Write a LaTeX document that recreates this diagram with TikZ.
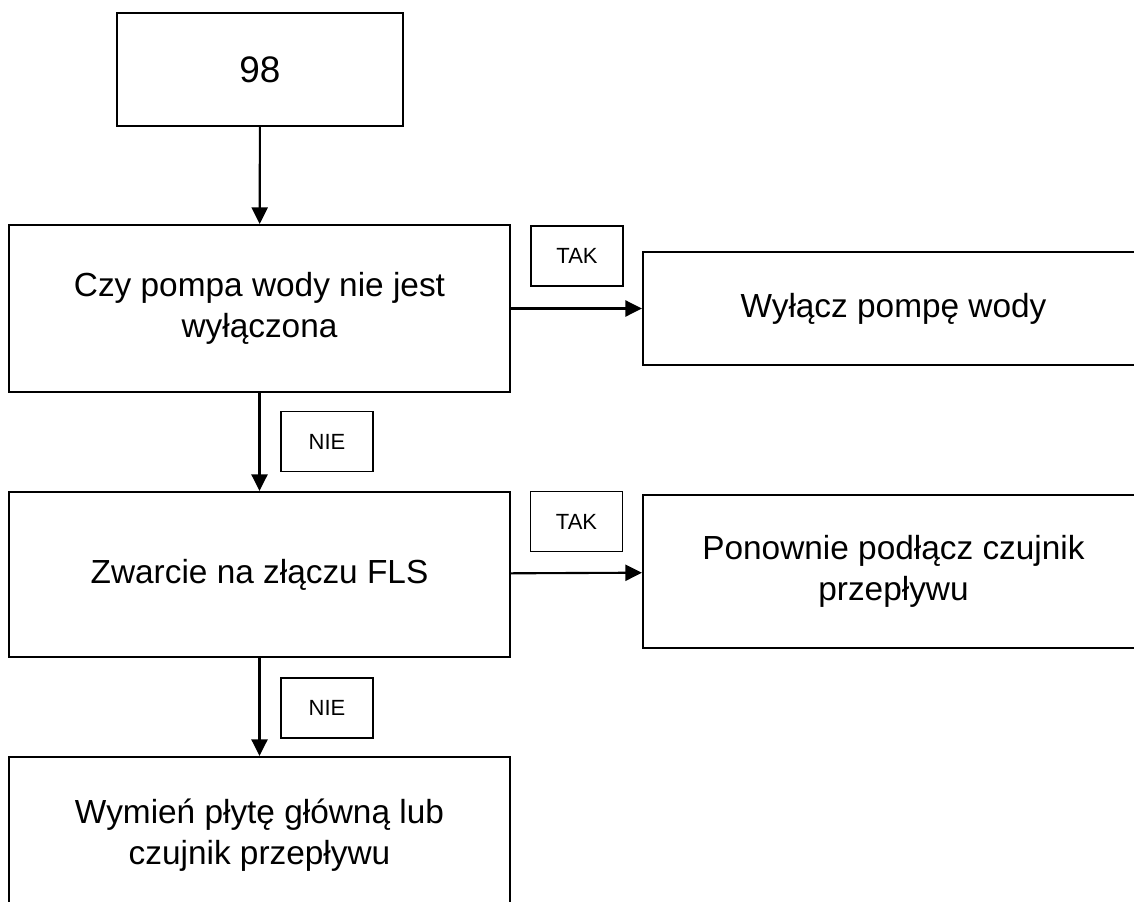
\documentclass[tikz,border=0pt]{standalone}
\usepackage{fontspec}
\setmainfont{Liberation Sans}
\usetikzlibrary{arrows.meta, positioning}

\begin{document}
\begin{tikzpicture}[
            box/.style={draw=black, line width=1.2pt, minimum width=10.02cm, inner sep=0pt, align=center, font=\fontsize{19}{23}\selectfont},
            lbl/.style={draw=black, line width=1pt, minimum width=1.84cm, minimum height=1.2cm, inner sep=0pt, font=\fontsize{12.5}{15}\selectfont},
            arr/.style={-{Triangle[length=0.33cm, width=0.32cm]}, line width=1.2pt}
        ]
            \clip (0,0) rectangle (22.68,-18.04);
            \node[box, minimum width=5.72cm, minimum height=2.26cm, font=\fontsize{21}{25}\selectfont] (n98) at (5.2,-1.39) {98};
            \node[box, minimum height=3.34cm] (q1) at (5.19,-6.17) {Czy pompa wody nie jest\\wyłączona};
            \node[box, minimum height=2.26cm] (a1) at (17.87,-6.17) {Wyłącz pompę wody};
            \node[box, minimum height=3.3cm] (q2) at (5.19,-11.49) {Zwarcie na złączu FLS};
            \node[box, minimum height=3.06cm] (a2) at (17.87,-11.43) {Ponownie podłącz czujnik\\przepływu};
            \node[box, minimum height=3.12cm] (fin) at (5.19,-16.7) {Wymień płytę główną lub\\czujnik przepływu};
            \node[lbl] (tak1) at (11.54,-5.12) {TAK};
            \node[lbl] (tak2) at (11.53,-10.43) {TAK};
            \node[lbl] (nie1) at (6.54,-8.83) {NIE};
            \node[lbl] (nie2) at (6.54,-14.16) {NIE};
            \draw[arr] (n98) -- (q1);
            \draw[arr] (q1) -- (a1);
            \draw[arr] (q1) -- (q2);
            \draw[arr] (q2) -- (a2);
            \draw[arr] (q2) -- (fin);
        \end{tikzpicture}
\end{document}
